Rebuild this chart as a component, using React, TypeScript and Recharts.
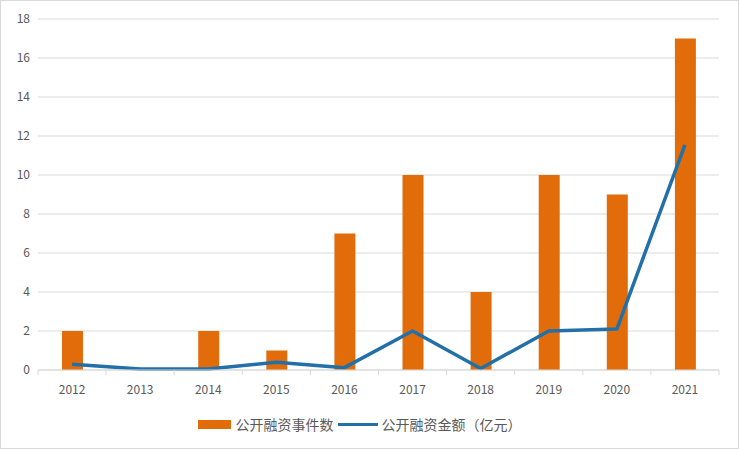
import { ComposedChart, Bar, Line, XAxis, YAxis, CartesianGrid, Legend } from 'recharts';

const years = ['2012', '2013', '2014', '2015', '2016', '2017', '2018', '2019', '2020', '2021'];
const eventCounts = [2, 0, 2, 1, 7, 10, 4, 10, 9, 17];
const amounts = [0.3, 0.05, 0.05, 0.4, 0.12, 2.0, 0.08, 2.0, 2.1, 11.55];
const yTicks = [0, 2, 4, 6, 8, 10, 12, 14, 16, 18];

const data = years.map((year, i) => ({
    year,
    events: eventCounts[i],
    amount: amounts[i],
}));

const W = 739;
const H = 449;
const MARGIN = { top: 19, right: 20, left: 0, bottom: 19 };
const Y_WIDTH = 38;
const X_TICK_MARGIN = 15;
const ORANGE = '#e36c0a';
const BLUE = '#2370a8';
const GRID = '#d9d9d9';
const TEXT = '#595959';
const FONT = '"Noto Sans CJK SC", "Noto Sans", sans-serif';

const band = (W - MARGIN.left - MARGIN.right - Y_WIDTH) / years.length;

function XTick(props: any) {
    const { x, y, payload, index } = props;
    const axisY = y - X_TICK_MARGIN;
    const isLast = index === years.length - 1;
    return (
        <g>
            <line x1={x - band / 2} x2={x - band / 2} y1={axisY} y2={axisY + 5} stroke={GRID} />
            {isLast && <line x1={x + band / 2} x2={x + band / 2} y1={axisY} y2={axisY + 5} stroke={GRID} />}
            <text x={x} y={y} dy="0.71em" textAnchor="middle" fill={TEXT} fontSize={12} fontFamily={FONT}>
                {payload.value}
            </text>
        </g>
    );
}

function LegendContent() {
    return (
        <div style={{ display: 'flex', justifyContent: 'center', alignItems: 'center', fontFamily: FONT, fontSize: 14, color: TEXT, height: 20, paddingTop: 14 }}>
            <span style={{ display: 'inline-block', width: 33, height: 9, background: ORANGE, marginRight: 5 }} />
            <span style={{ marginRight: 4 }}>公开融资事件数</span>
            <span style={{ display: 'inline-block', width: 40, height: 3, background: BLUE, marginRight: 4 }} />
            <span>公开融资金额（亿元）</span>
        </div>
    );
}

export default function App() {
    return (
        <div style={{ position: 'absolute', left: 0, top: 0, width: W, height: H, background: '#fff' }}>
            <div style={{ position: 'absolute', inset: 0, border: `1px solid ${GRID}`, boxSizing: 'border-box', pointerEvents: 'none' }} />
            <ComposedChart width={W} height={H} data={data} margin={MARGIN}>
                <CartesianGrid vertical={false} stroke={GRID} />
                <XAxis
                    dataKey="year"
                    axisLine={{ stroke: GRID }}
                    tickLine={false}
                    tickSize={0}
                    tickMargin={X_TICK_MARGIN}
                    height={30}
                    tick={<XTick />}
                    interval={0}
                />
                <YAxis
                    width={Y_WIDTH}
                    domain={[0, 18]}
                    ticks={yTicks}
                    axisLine={false}
                    tickLine={false}
                    tickSize={0}
                    tickMargin={8}
                    tick={{ fill: TEXT, fontSize: 12, fontFamily: FONT }}
                />
                <Bar dataKey="events" name="公开融资事件数" fill={ORANGE} barSize={21} isAnimationActive={false} />
                <Line
                    dataKey="amount"
                    name="公开融资金额（亿元）"
                    stroke={BLUE}
                    strokeWidth={3.5}
                    dot={false}
                    strokeLinejoin="round"
                    isAnimationActive={false}
                />
                <Legend verticalAlign="bottom" height={30} content={<LegendContent />} />
            </ComposedChart>
        </div>
    );
}
